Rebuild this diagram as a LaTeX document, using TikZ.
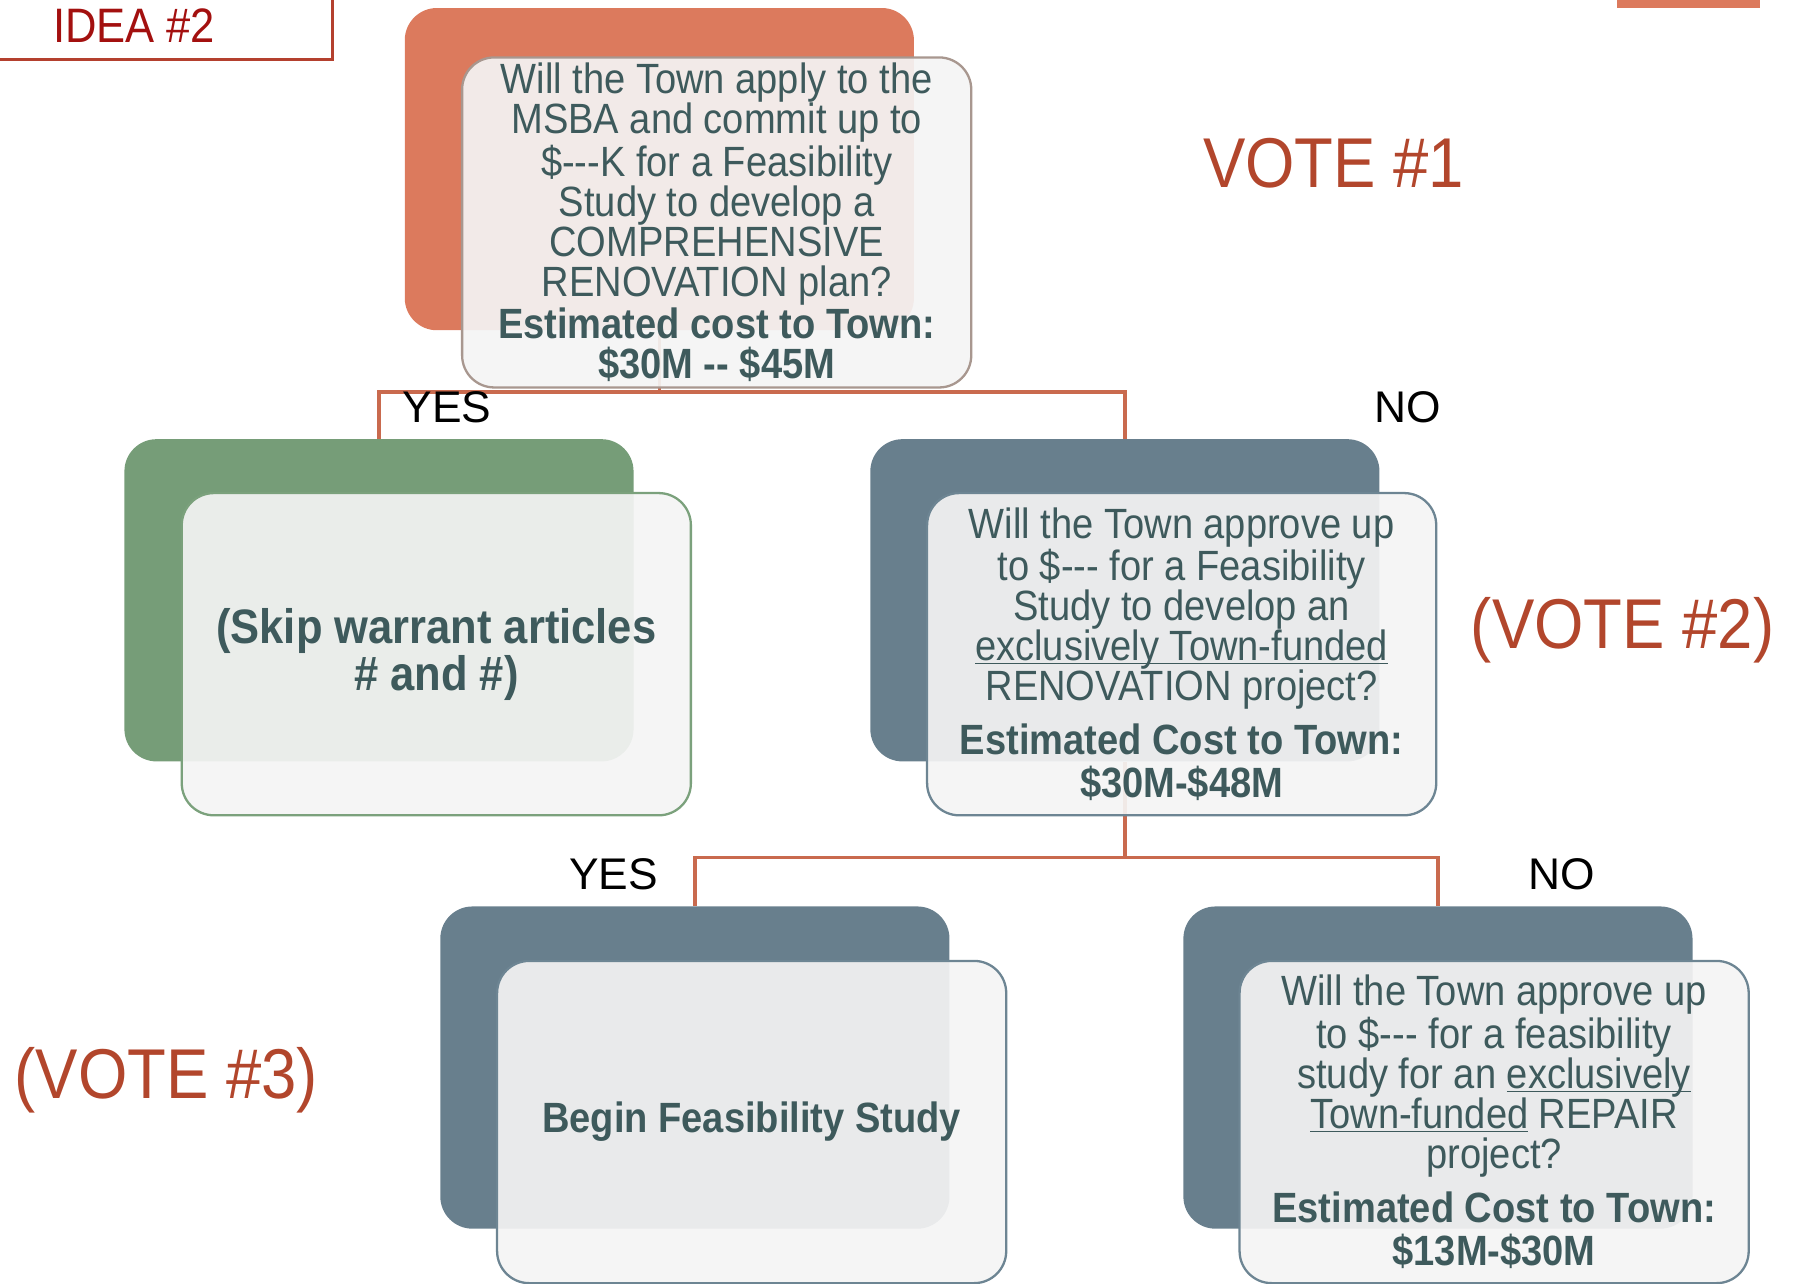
\documentclass[tikz,border=0pt]{standalone}
\usepackage{fontspec}
\setmainfont{Liberation Sans}
\newfontfamily\condfont{Liberation Sans}[FakeStretch=0.9]
\newcommand{\undl}[1]{\underline{\smash{#1}}}

\definecolor{ideared}{HTML}{A3100F}
\definecolor{ideaframe}{HTML}{B4402E}
\definecolor{votered}{HTML}{B2462C}
\definecolor{linkred}{HTML}{C96A4E}
\definecolor{orangebox}{HTML}{DC7A5D}
\definecolor{greenbox}{HTML}{769D78}
\definecolor{bluebox}{HTML}{687F8D}
\definecolor{frontfill}{HTML}{F4F4F4}
\definecolor{boxtext}{HTML}{3E5A5C}
\definecolor{orangeframe}{HTML}{A8978F}
\definecolor{greenframe}{HTML}{7BA17C}
\definecolor{blueframe}{HTML}{6D8593}

\tikzset{
  backbox/.style={rounded corners=5.6mm, minimum width=88.8mm, minimum height=56.2mm, inner sep=0pt},
  frontbox/.style={rounded corners=5.6mm, minimum width=88.8mm, minimum height=56.2mm, inner sep=1mm,
    fill=frontfill, fill opacity=0.92, text opacity=1, line width=0.4mm, align=center, text=boxtext,
    font=\condfont\fontsize{21}{19.9}\selectfont},
  link/.style={draw=linkred, line width=0.6mm},
  answer/.style={font=\fontsize{22}{24}\selectfont},
  votelabel/.style={text=votered, font=\condfont\fontsize{35}{38}\selectfont},
}

\begin{document}
\begin{tikzpicture}[x=0.2mm, y=-0.2mm]
    \useasboundingbox (0,0) rectangle (1568,1119);
    \draw[ideaframe, line width=0.4mm] (-10,-10) rectangle (290,52);
    \node[text=ideared, font=\condfont\fontsize{24}{26}\selectfont] (idea) at (117,22) {IDEA \#2};
    \fill[orangebox] (1410,0) rectangle (1535,7);

    \node[backbox, fill=orangebox] (b1) at (575,147.5) {};
    \node[backbox, fill=greenbox] (b2) at (330.5,523.5) {};
    \node[backbox, fill=bluebox] (b3) at (981,523.5) {};
    \node[backbox, fill=bluebox] (b4) at (606,931) {};
    \node[backbox, fill=bluebox] (b5) at (1254,931) {};

    \coordinate (j1) at (575,342);
    \coordinate (j2) at (981,748);
    \draw[link] (b1.south) -- (j1);
    \draw[link] (b2.north) |- (j1) -| (b3.north);
    \draw[link] (b3.south) -- (j2);
    \draw[link] (b4.north) |- (j2) -| (b5.north);

    \node[frontbox, draw=orangeframe] (f1) at ([shift={(50,46.5)}]b1) {Will the Town apply to the\\
      MSBA and commit up to\\
      \$-{}-{}-K for a Feasibility\\
      Study to develop a\\
      COMPREHENSIVE\\
      RENOVATION plan?\\[1pt]
      \textbf{Estimated cost to Town:}\\
      \textbf{\$30M -{}- \$45M}};
    \node[frontbox, draw=greenframe, font=\condfont\bfseries\fontsize{24}{22.2}\selectfont] (f2) at ([shift={(50,47)}]b2) {(Skip warrant articles\\
      \# and \#)};
    \node[frontbox, draw=blueframe] (f3) at ([shift={(49.5,47)}]b3) {Will the Town approve up\\
      to \$-{}-{}- for a Feasibility\\
      Study to develop an\\
      \undl{exclusively Town-funded}\\
      RENOVATION project?\\[7pt]
      \textbf{Estimated Cost to Town:}\\[1.5pt]
      \textbf{\$30M-\$48M}};
    \node[frontbox, draw=blueframe] (f4) at ([shift={(49.5,47.5)}]b4) {\textbf{Begin Feasibility Study}};
    \node[frontbox, draw=blueframe] (f5) at ([shift={(49,47.5)}]b5) {Will the Town approve up\\
      to \$-{}-{}- for a feasibility\\
      study for an \undl{exclusively}\\
      \undl{Town-funded} REPAIR\\
      project?\\[7pt]
      \textbf{Estimated Cost to Town:}\\[1.5pt]
      \textbf{\$13M-\$30M}};

    \node[answer] (yes1) at (390,355) {YES};
    \node[answer] (no1) at (1228,355) {NO};
    \node[answer] (yes2) at (535,762) {YES};
    \node[answer] (no2) at (1362,762) {NO};

    \node[votelabel] (vote1) at (1163,142) {VOTE \#1};
    \node[votelabel] (vote2) at (1415,550) {(VOTE \#2)};
    \node[votelabel] (vote3) at (145,942) {(VOTE \#3)};
\end{tikzpicture}
\end{document}
